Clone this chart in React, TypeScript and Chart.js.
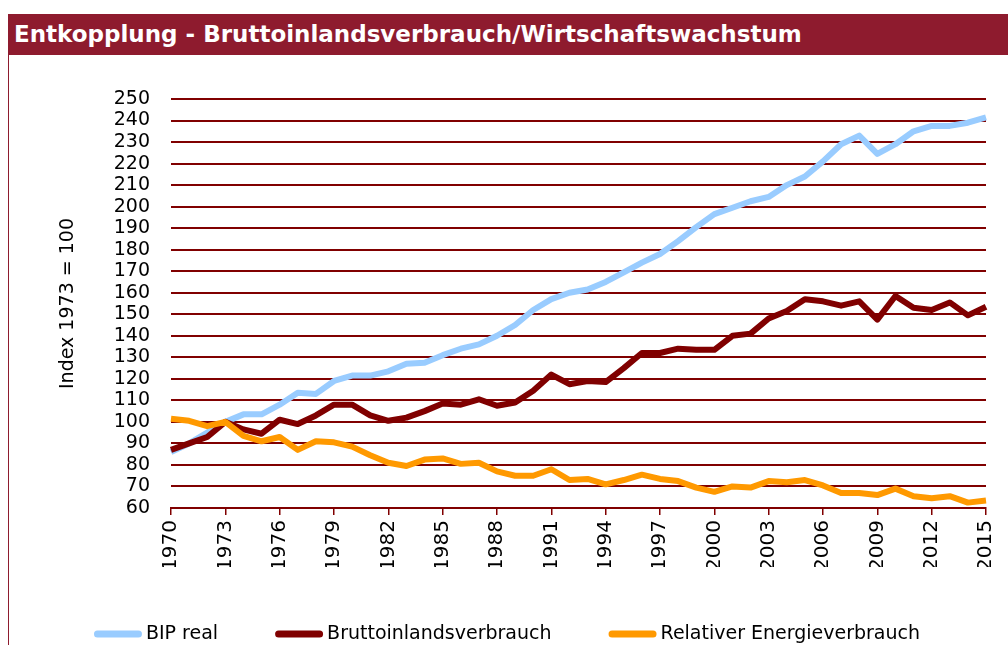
import React, { useEffect, useRef } from "react";
import { Chart, registerables } from "chart.js";

Chart.register(...registerables);

const years = [
  "1970", "1971", "1972", "1973", "1974", "1975", "1976", "1977", "1978", "1979",
  "1980", "1981", "1982", "1983", "1984", "1985", "1986", "1987", "1988", "1989",
  "1990", "1991", "1992", "1993", "1994", "1995", "1996", "1997", "1998", "1999",
  "2000", "2001", "2002", "2003", "2004", "2005", "2006", "2007", "2008", "2009",
  "2010", "2011", "2012", "2013", "2014", "2015",
];

const bipReal = [
  86, 90, 95, 100, 103.5, 103.5, 108, 113.5, 113, 119,
  121.5, 121.5, 123.5, 127, 127.5, 131, 134, 136, 140, 145,
  152, 157, 160, 161.5, 165, 169.5, 174, 178, 184, 190.5,
  196.5, 199.5, 202.5, 204.5, 210, 214, 221, 229, 233, 224.5,
  229, 235, 237.5, 237.5, 239, 241.5,
];

const bruttoinlandsverbrauch = [
  87, 90, 93, 100, 96.5, 94.5, 101, 99, 103, 108,
  108, 103, 100.5, 102, 105, 108.5, 108, 110.5, 107.5, 109,
  114.5, 122, 117.5, 119, 118.5, 125, 132, 132, 134, 133.5,
  133.5, 140, 141, 148, 151.5, 157, 156, 154, 156, 147.5,
  158.5, 153, 152, 155.5, 149.5, 153.5,
];

const relativerEnergieverbrauch = [
  101.5, 100.5, 98, 100, 93.5, 91, 93, 87, 91, 90.5,
  88.5, 84.5, 81, 79.5, 82.5, 83, 80.5, 81, 77, 75,
  75, 78, 73, 73.5, 71, 73, 75.5, 73.5, 72.5, 69.5,
  67.5, 70, 69.5, 72.5, 72, 73, 70.5, 67, 67, 66,
  69, 65.5, 64.5, 65.5, 62.5, 63.5,
];

const seriesNames = ["BIP real", "Bruttoinlandsverbrauch", "Relativer Energieverbrauch"];
const seriesColors = ["#99CCFF", "#800000", "#FF9900"];

const chartTitle = "Entkopplung - Bruttoinlandsverbrauch/Wirtschaftswachstum";
const yAxisTitle = "Index 1973 = 100";
const yMin = 60;
const yMax = 250;
const yStep = 10;
const xLabelEvery = 3;

const FONT = "'DejaVu Sans', Verdana, sans-serif";

const legendPlugin = {
  id: "lineLegend",
  afterDraw(chart: any) {
    const ctx = chart.ctx as CanvasRenderingContext2D;
    ctx.save();
    ctx.font = `19px ${FONT}`;
    const sample = 48;
    const gap = 4;
    const between = 57;
    const widths = seriesNames.map((n) => ctx.measureText(n).width);
    const total =
      widths.reduce((a, w) => a + sample + gap + w, 0) + between * (seriesNames.length - 1);
    let x = 507 - total / 2;
    const y = 634;
    ctx.textBaseline = "middle";
    ctx.textAlign = "left";
    seriesNames.forEach((name, i) => {
      ctx.strokeStyle = seriesColors[i];
      ctx.lineWidth = 7;
      ctx.lineCap = "round";
      ctx.beginPath();
      ctx.moveTo(x + 3.5, y);
      ctx.lineTo(x + sample - 3.5, y);
      ctx.stroke();
      ctx.fillStyle = "#000";
      ctx.fillText(name, x + sample + gap, y);
      x += sample + gap + widths[i] + between;
    });
    ctx.restore();
  },
};

export default function App() {
  const canvasRef = useRef<HTMLCanvasElement>(null);

  useEffect(() => {
    if (!canvasRef.current) return;
    Chart.defaults.font.family = FONT;
    const values = [bipReal, bruttoinlandsverbrauch, relativerEnergieverbrauch];
    const chart = new Chart(canvasRef.current, {
      type: "line",
      data: {
        labels: years,
        datasets: values.map((d, i) => ({
          label: seriesNames[i],
          data: d,
          borderColor: seriesColors[i],
          backgroundColor: seriesColors[i],
          borderWidth: 6,
          pointRadius: 0,
          tension: 0,
          borderJoinStyle: "round" as const,
          borderCapStyle: "butt" as const,
          fill: false,
          order: 3 - i,
        })),
      },
      plugins: [legendPlugin],
      options: {
        responsive: false,
        animation: false,
        devicePixelRatio: 1,
        layout: { padding: { top: 99, right: 22, left: 0, bottom: 78 } },
        plugins: {
          tooltip: { enabled: false },
          legend: { display: false },
        },
        scales: {
          x: {
            grid: {
              drawOnChartArea: false,
              drawTicks: true,
              tickLength: 7,
              lineWidth: 1.5,
              color: (ctx: any) => (ctx.index % xLabelEvery === 0 ? "#800000" : "rgba(0,0,0,0)"),
            },
            border: { display: true, color: "#800000", width: 2 },
            ticks: {
              autoSkip: false,
              maxRotation: 90,
              minRotation: 90,
              padding: 5,
              color: "#000",
              font: { size: 20 },
              callback: (_v: any, i: number) => (i % xLabelEvery === 0 ? years[i] : ""),
            },
            afterFit: (s: any) => {
              s.height = 59;
              s.paddingLeft = 0;
              s.paddingRight = 0;
            },
          },
          y: {
            min: yMin,
            max: yMax,
            ticks: { stepSize: yStep, autoSkip: false, padding: 21, color: "#000", font: { size: 19 } },
            grid: { color: "#800000", lineWidth: 2, drawTicks: false },
            border: { display: false },
            title: {
              display: true,
              text: yAxisTitle,
              color: "#000",
              font: { size: 19 },
              padding: { top: 57, bottom: 0 },
            },
            afterFit: (s: any) => {
              s.width = 171;
            },
          },
        },
      },
    });
    return () => chart.destroy();
  }, []);

  return (
    <div
      style={{
        position: "absolute",
        left: 0,
        top: 0,
        width: 1008,
        height: 645,
        overflow: "hidden",
        background: "#fff",
      }}
    >
      <canvas
        ref={canvasRef}
        width={1008}
        height={645}
        style={{ position: "absolute", left: 0, top: 0, width: 1008, height: 645 }}
      />
      <div
        style={{
          position: "absolute",
          left: 8,
          top: 55,
          width: 1100,
          height: 700,
          borderLeft: "1px solid #8E1B2E",
          pointerEvents: "none",
        }}
      />
      <div
        style={{
          position: "absolute",
          left: 8,
          top: 14,
          width: 1000,
          height: 41,
          background: "#8E1B2E",
          color: "#fff",
          fontFamily: FONT,
          fontWeight: "bold",
          fontSize: 23,
          lineHeight: "41px",
          paddingLeft: 6,
          boxSizing: "border-box",
          whiteSpace: "nowrap",
        }}
      >
        {chartTitle}
      </div>
    </div>
  );
}
